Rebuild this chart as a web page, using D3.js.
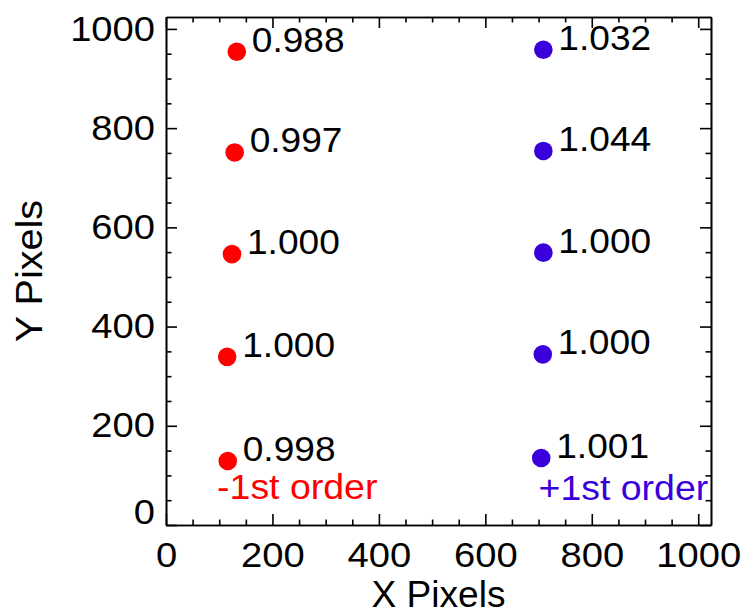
<!DOCTYPE html>
<html>
<head>
<meta charset="utf-8">
<script src="https://cdn.jsdelivr.net/npm/d3@7/dist/d3.min.js"></script>
<style>
  html, body { margin: 0; padding: 0; background: #fff; }
  svg { display: block; }
  text { font-family: "Liberation Sans", Arial, Helvetica, sans-serif; }
</style>
</head>
<body>
<svg id="chart" width="748" height="615"></svg>
<script>
// Detector field positions (pixels) and flux ratio for each spot
const minusX = [133, 129, 124, 115, 116];
const minusY = [954, 751, 546, 339, 129];
const minusRatio = ["0.988", "0.997", "1.000", "1.000", "0.998"];

const plusX = [709, 709, 709, 708, 705];
const plusY = [958, 754, 549, 344, 135];
const plusRatio = ["1.032", "1.044", "1.000", "1.000", "1.001"];

const majorTicks = [0, 200, 400, 600, 800, 1000];
const minorTicks = [50, 100, 150, 250, 300, 350, 450, 500, 550, 650, 700, 750, 850, 900, 950];

const seriesNames = ["-1st order", "+1st order"];
const seriesColors = ["#ff0000", "#3a00dc"];

const svg = d3.select("#chart");
const mLeft = 166, mRight = 711, mTop = 17, mBottom = 525;

const x = d3.scaleLinear().domain([0, 1024]).range([mLeft, mRight]);
const y = d3.scaleLinear().domain([0, 1024]).range([mBottom, mTop]);

const axisStroke = 1.6;
const fontTick = 35;

// widen glyphs horizontally by factor k (the plot font is broader than Liberation Sans)
function widen(sel, k) {
  sel.each(function () {
    const len = this.getComputedTextLength();
    d3.select(this).attr("textLength", len * k).attr("lengthAdjust", "spacingAndGlyphs");
  });
}

function styleAxis(g) {
  g.selectAll("path.domain").attr("stroke", "#000").attr("stroke-width", axisStroke);
  g.selectAll(".tick line").attr("stroke", "#000").attr("stroke-width", axisStroke);
  g.selectAll(".tick text").attr("fill", "#000").style("font-size", fontTick + "px")
    .style("font-family", '"Liberation Sans", Arial, sans-serif');
}

// bottom axis with labels
const gx = svg.append("g").attr("transform", `translate(0,${mBottom})`)
  .call(d3.axisBottom(x).tickValues(majorTicks).tickFormat(d3.format("d"))
    .tickSize(-11).tickSizeOuter(0).tickPadding(20))
  .call(styleAxis);
gx.selectAll(".tick text").attr("y", 17);
widen(gx.selectAll(".tick text"), 1.09);

svg.append("g").attr("transform", `translate(0,${mBottom})`)
  .call(d3.axisBottom(x).tickValues(minorTicks).tickFormat("").tickSize(-5.5).tickSizeOuter(0))
  .call(styleAxis);

// left axis with labels
const gy = svg.append("g").attr("transform", `translate(${mLeft},0)`)
  .call(d3.axisLeft(y).tickValues(majorTicks).tickFormat(d3.format("d"))
    .tickSize(-11).tickSizeOuter(0).tickPadding(11))
  .call(styleAxis);
gy.selectAll(".tick").filter(d => d === 0).select("text").attr("dy", "-0.03em");
widen(gy.selectAll(".tick text"), 1.09);

svg.append("g").attr("transform", `translate(${mLeft},0)`)
  .call(d3.axisLeft(y).tickValues(minorTicks).tickFormat("").tickSize(-5.5).tickSizeOuter(0))
  .call(styleAxis);

// top and right axes: ticks only
svg.append("g").attr("transform", `translate(0,${mTop})`)
  .call(d3.axisTop(x).tickValues(majorTicks).tickFormat("").tickSize(-11).tickSizeOuter(0))
  .call(styleAxis);
svg.append("g").attr("transform", `translate(0,${mTop})`)
  .call(d3.axisTop(x).tickValues(minorTicks).tickFormat("").tickSize(-5.5).tickSizeOuter(0))
  .call(styleAxis);
svg.append("g").attr("transform", `translate(${mRight},0)`)
  .call(d3.axisRight(y).tickValues(majorTicks).tickFormat("").tickSize(-11).tickSizeOuter(0))
  .call(styleAxis);
svg.append("g").attr("transform", `translate(${mRight},0)`)
  .call(d3.axisRight(y).tickValues(minorTicks).tickFormat("").tickSize(-5.5).tickSizeOuter(0))
  .call(styleAxis);

// axis titles
const xTitle = svg.append("text")
  .attr("x", (mLeft + mRight) / 2).attr("y", 607)
  .attr("text-anchor", "middle").style("font-size", "36px").attr("fill", "#000")
  .text("X Pixels");
widen(xTitle, 1.03);
const yTitle = svg.append("text")
  .attr("transform", `translate(42,${(mTop + mBottom) / 2}) rotate(-90)`)
  .attr("text-anchor", "middle").style("font-size", "36px").attr("fill", "#000")
  .text("Y Pixels");
widen(yTitle, 1.1);

// clip region for text drawn inside the frame
svg.append("clipPath").attr("id", "plotClip")
  .append("rect").attr("x", mLeft).attr("y", mTop)
  .attr("width", mRight - mLeft - 3).attr("height", mBottom - mTop);

const series = [
  { xs: minusX, ys: minusY, labels: minusRatio },
  { xs: plusX, ys: plusY, labels: plusRatio }
];

series.forEach((s, i) => {
  const pts = s.xs.map((v, j) => ({ x: v, y: s.ys[j], label: s.labels[j] }));
  const g = svg.append("g");
  g.selectAll("circle").data(pts).join("circle")
    .attr("cx", d => x(d.x)).attr("cy", d => y(d.y)).attr("r", 9.3)
    .attr("fill", seriesColors[i]);
  const labels = g.selectAll("text").data(pts).join("text")
    .attr("x", d => x(d.x) + 15).attr("y", d => y(d.y))
    .style("font-size", "35px").attr("fill", "#000")
    .text(d => d.label);
  widen(labels, 1.06);
});

// series captions
const captionPos = [[96, 52], [700, 50]];
const captions = svg.append("g").attr("clip-path", "url(#plotClip)")
  .selectAll("text").data(seriesNames).join("text")
  .attr("x", (d, i) => x(captionPos[i][0]))
  .attr("y", (d, i) => y(captionPos[i][1]))
  .style("font-size", "35px")
  .attr("fill", (d, i) => seriesColors[i])
  .text(d => d);
widen(captions, 1.07);
</script>
</body>
</html>
